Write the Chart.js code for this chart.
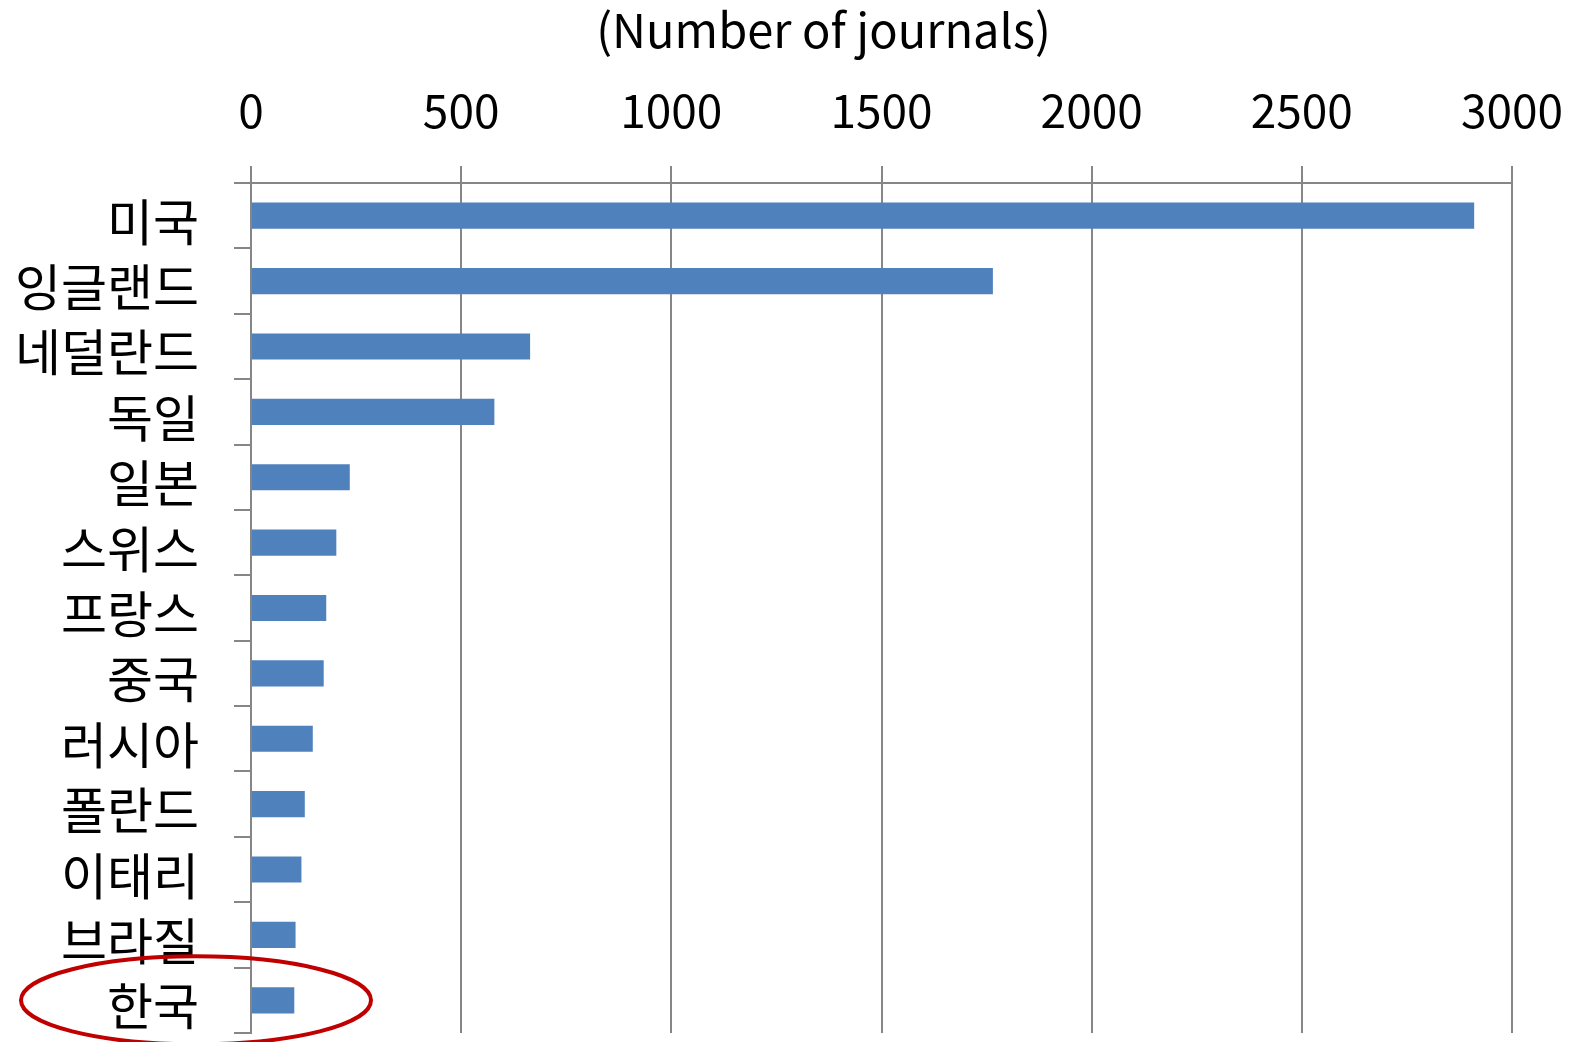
<!DOCTYPE html>
<html>
<head>
<meta charset="utf-8">
<script src="https://cdn.jsdelivr.net/npm/chart.js@4"></script>
<style>
  html, body { margin: 0; padding: 0; background: #fff; overflow: hidden; }
  canvas { display: block; }
</style>
</head>
<body>
<canvas id="chart1" width="1575" height="1042"></canvas>
<script>
// countries, top to bottom
const countries = ['미국', '잉글랜드', '네덜란드', '독일', '일본', '스위스', '프랑스', '중국', '러시아', '폴란드', '이태리', '브라질', '한국']
// number of journals per country
const journals = [2910, 1765, 664, 579, 235, 203, 179, 173, 147, 128, 120, 106, 103]
const xTicks = [0, 500, 1000, 1500, 2000, 2500, 3000]
const titleText = '(Number of journals)'
const highlight = '한국'

const fontFamily = "'Noto Sans CJK KR', 'Noto Sans', sans-serif"
const gridGray = '#868686'

// keep the scales from pushing the plot area in
function noPad(scale) {
    scale.paddingTop = 0
    scale.paddingBottom = 0
    scale.paddingLeft = 0
    scale.paddingRight = 0
}

// title above the axis and the red ring round the highlighted label
const extras = {
    id: 'extras',
    afterDraw(chart) {
        const ctx = chart.ctx
        const area = chart.chartArea
        const yScale = chart.scales.y
        ctx.save()
        ctx.fillStyle = '#000'
        ctx.font = '47px ' + fontFamily
        ctx.textAlign = 'center'
        ctx.textBaseline = 'middle'
        ctx.fillText(titleText, (area.left + area.right) / 2 - 58, 30)

        const idx = countries.indexOf(highlight)
        const cy = yScale.getPixelForValue(idx)
        ctx.strokeStyle = '#C00000'
        ctx.lineWidth = 4
        ctx.beginPath()
        ctx.ellipse(area.left - 55, cy, 175, 44, 0, 0, Math.PI * 2)
        ctx.stroke()
        ctx.restore()
    }
}

let ctx = document.getElementById('chart1').getContext('2d')
let myChart = new Chart(ctx, {
    type: 'bar',
    data: {
        labels: countries,
        datasets: [{
            label: 'journals',
            data: journals,
            backgroundColor: '#4F81BD',
            borderWidth: 0,
            barPercentage: 0.4,
            categoryPercentage: 1.0
        }]
    },
    options: {
        indexAxis: 'y',
        responsive: false,
        animation: false,
        devicePixelRatio: 1,
        layout: {
            autoPadding: false,
            padding: { top: 83, right: 63, bottom: 9, left: 0 }
        },
        plugins: {
            legend: { display: false },
            tooltip: { enabled: false }
        },
        scales: {
            x: {
                position: 'top',
                min: 0,
                max: 3000,
                afterBuildTicks(scale) {
                    scale.ticks = xTicks.map(v => ({ value: v }))
                },
                afterFit(scale) {
                    scale.height = 100
                    noPad(scale)
                },
                grid: {
                    color: gridGray,
                    lineWidth: 2,
                    tickLength: 17,
                    drawTicks: true
                },
                border: { display: true, color: gridGray, width: 2 },
                ticks: {
                    color: '#000',
                    padding: 28,
                    maxRotation: 0,
                    callback: v => String(v),
                    font: { family: fontFamily, size: 46 }
                }
            },
            y: {
                offset: true,
                afterFit(scale) {
                    scale.width = 251
                    noPad(scale)
                },
                grid: {
                    offset: true,
                    drawOnChartArea: false,
                    color: gridGray,
                    lineWidth: 2,
                    tickLength: 17
                },
                border: { display: true, color: gridGray, width: 2 },
                ticks: {
                    color: '#000',
                    padding: 35,
                    labelOffset: 6,
                    font: { family: fontFamily, size: 50 }
                }
            }
        }
    },
    plugins: [extras]
})
</script>
</body>
</html>
